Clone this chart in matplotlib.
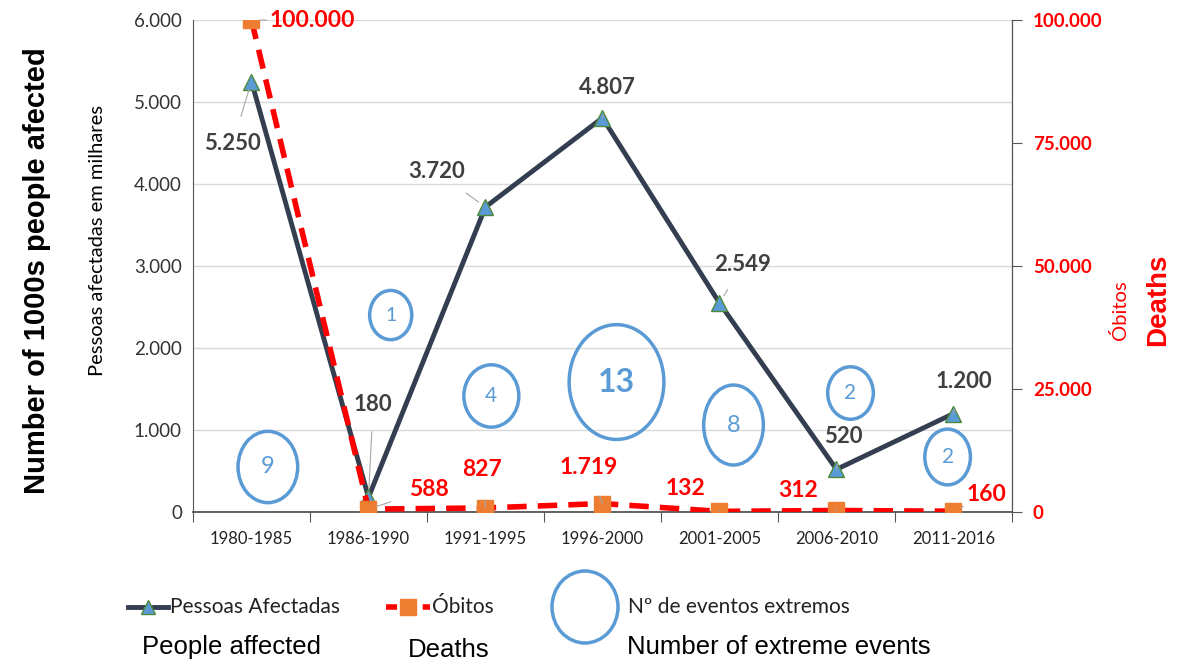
import numpy as np
import matplotlib
matplotlib.use("Agg")
import matplotlib.pyplot as plt
from matplotlib.patches import Ellipse
from matplotlib.lines import Line2D

# data
periods = ["1980-1985", "1986-1990", "1991-1995", "1996-2000", "2001-2005", "2006-2010", "2011-2016"]
people_affected = [5250, 180, 3720, 4807, 2549, 520, 1200]     # thousands
deaths = [100000, 588, 827, 1719, 132, 312, 160]
extreme_events = [9, 1, 4, 13, 8, 2, 2]

left_ticks = [0, 1000, 2000, 3000, 4000, 5000, 6000]
right_ticks = [0, 25000, 50000, 75000, 100000]

# bubble layout: (x in category units, y in thousands, width, height, fontsize)
bubble_layout = [
    (0.14, 549, 0.51, 870, 17),
    (1.19, 2402, 0.36, 600, 14),
    (2.05, 1415, 0.47, 760, 15),
    (3.12, 1585, 0.81, 1400, 23),
    (4.12, 1061, 0.51, 975, 17),
    (5.12, 1451, 0.39, 640, 15),
    (5.95, 671, 0.39, 680, 15),
]

LABEL_FONT = "Lato"
DARK = "#333f50"
RED = "#ff0000"
ORANGE = "#ed7d31"
BLUE = "#5b9bd5"


def fmt(v):
    return f"{v:,}".replace(",", ".")


fig = plt.figure(figsize=(11.84, 6.61), dpi=100)
ax = fig.add_axes([0.163, 0.2254, 0.6917, 0.7443])
ax2 = ax.twinx()

x = np.arange(len(periods))

# grid and axes
ax.set_xlim(-0.5, len(periods) - 0.5)
ax.set_ylim(0, 6000)
ax.set_yticks(left_ticks)
ax.set_yticklabels([fmt(v) for v in left_ticks], fontsize=13.5, color="#333333", family=LABEL_FONT)
ax.yaxis.grid(True, color="#d9d9d9", lw=1)
ax.set_axisbelow(True)
ax.tick_params(axis="y", length=0, pad=8)

ax.set_xticks(np.arange(-0.5, len(periods), 1))
ax.set_xticklabels([])
ax.set_xticks(x, minor=True)
ax.set_xticklabels(periods, minor=True, fontsize=12, color="#222222", family=LABEL_FONT)
ax.tick_params(axis="x", which="major", length=7, color="#555555")
ax.tick_params(axis="x", which="minor", length=0, pad=14)

ax.spines["top"].set_visible(False)
ax2.spines["top"].set_visible(False)
ax.spines["left"].set_color("#555555")
ax.spines["bottom"].set_color("#555555")
ax.spines["bottom"].set_linewidth(1.3)
ax2.spines["right"].set_color("#555555")
ax2.spines["left"].set_visible(False)
ax2.spines["bottom"].set_visible(False)

ax2.set_ylim(0, 100000)
ax2.set_yticks(right_ticks)
ax2.set_yticklabels([fmt(v) for v in right_ticks], fontsize=13.5, color=RED,
                    fontweight="bold", family=LABEL_FONT)
ax2.tick_params(axis="y", length=7, color="#555555", pad=8)

# bubbles for extreme events
for n, (bx, by, bw, bh, fs) in zip(extreme_events, bubble_layout):
    ax.add_patch(Ellipse((bx, by), bw, bh, facecolor="none", edgecolor=BLUE, lw=2.5, zorder=1))
    ax.text(bx, by, str(n), ha="center", va="center", color=BLUE, fontsize=fs,
            family=LABEL_FONT, fontweight="bold" if n == 13 else "normal", zorder=1)

# people affected line
ax.plot(x, people_affected, color=DARK, lw=3.5, marker="^", markersize=12,
        markerfacecolor=BLUE, markeredgecolor="#4f8a3c", markeredgewidth=1, zorder=3)

# deaths line
ax2.plot(x, deaths, color=RED, lw=4, ls=(0, (3.5, 2)), marker="s", markersize=11,
         markerfacecolor=ORANGE, markeredgecolor=ORANGE, zorder=3)

# data labels - people affected
people_label_pos = [(-0.16, 4500), (0.04, 1310), (-0.42, 4150), (0.04, 5180), (0.2, 3020), (0.06, 915), (0.09, 1590)]
for i, (v, (dx, ty)) in enumerate(zip(people_affected, people_label_pos)):
    ax.annotate(fmt(v), xy=(x[i], v), xytext=(x[i] + dx, ty), ha="center", va="center",
                fontsize=16, fontweight="bold", color="#404040", family=LABEL_FONT,
                arrowprops=dict(arrowstyle="-", color="#a6a6a6", lw=0.8, shrinkA=10, shrinkB=6),
                zorder=4)

# data labels - deaths
death_label_pos = [(0.52, 100000), (0.52, 4650), (-0.03, 8550), (-0.12, 9100), (-0.29, 4800), (-0.33, 4400), (0.28, 3500)]
for i, (v, (dx, ty)) in enumerate(zip(deaths, death_label_pos)):
    ax2.annotate(fmt(v), xy=(x[i], v), xytext=(x[i] + dx, ty), ha="center", va="center",
                 fontsize=16.5, fontweight="bold", color=RED, family=LABEL_FONT,
                 arrowprops=dict(arrowstyle="-", color="#a6a6a6", lw=0.8, shrinkA=12, shrinkB=6),
                 zorder=4)

# axis titles
fig.text(0.031, 0.59, "Number of 1000s people afected", rotation=90, ha="center", va="center",
         fontsize=21, fontweight="bold", family="Liberation Sans", color="black")
fig.text(0.082, 0.636, "Pessoas afectadas em milhares", rotation=90, ha="center", va="center",
         fontsize=14.5, family=LABEL_FONT, color="black")
fig.text(0.946, 0.531, "Óbitos", rotation=90, ha="center", va="center",
         fontsize=14.5, family=LABEL_FONT, color=RED)
fig.text(0.978, 0.546, "Deaths", rotation=90, ha="center", va="center",
         fontsize=20, fontweight="bold", family="Liberation Sans", color=RED)

# legend (drawn by hand)
ly = 1 - 607 / 661
fig.add_artist(Line2D([128 / 1184, 168 / 1184], [ly, ly], color=DARK, lw=3.5, transform=fig.transFigure))
fig.add_artist(Line2D([148 / 1184], [ly], marker="^", markersize=10, markerfacecolor=BLUE,
                      markeredgecolor="#4f8a3c", transform=fig.transFigure))
fig.text(170 / 1184, ly, "Pessoas Afectadas", ha="left", va="center", fontsize=15,
         family=LABEL_FONT, color="#222222")

fig.add_artist(Line2D([386 / 1184, 430 / 1184], [ly, ly], color=RED, lw=4, ls=(0, (2, 1.3)),
                      transform=fig.transFigure))
fig.add_artist(Line2D([408 / 1184], [ly], marker="s", markersize=11, markerfacecolor=ORANGE,
                      markeredgecolor=ORANGE, transform=fig.transFigure))
fig.text(432 / 1184, ly, "Óbitos", ha="left", va="center", fontsize=15,
         family=LABEL_FONT, color="#222222")

fig.add_artist(Ellipse((585 / 1184, ly), 66 / 1184, 72 / 661, facecolor="none", edgecolor=BLUE,
                       lw=2.5, transform=fig.transFigure))
fig.text(628 / 1184, ly, "Nº de eventos extremos", ha="left", va="center", fontsize=15,
         family=LABEL_FONT, color="#222222")

ey = 1 - 647 / 661
fig.text(232 / 1184, ey, "People affected", ha="center", va="center", fontsize=18.5,
         family="Liberation Sans", color="black")
fig.text(449 / 1184, ey - 0.005, "Deaths", ha="center", va="center", fontsize=18.5,
         family="Liberation Sans", color="black")
fig.text(779 / 1184, ey, "Number of extreme events", ha="center", va="center", fontsize=18.5,
         family="Liberation Sans", color="black")

fig.savefig("out.png", dpi=100, facecolor="white")
